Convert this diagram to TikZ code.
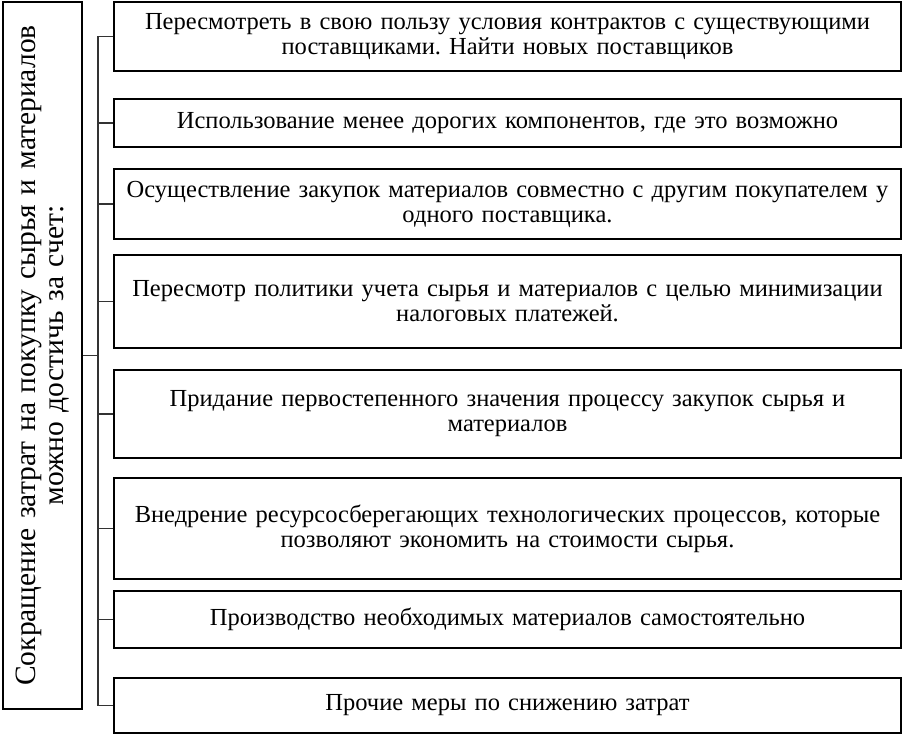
\documentclass[tikz,border=0pt]{standalone}
\usepackage{fontspec}
\setmainfont{Liberation Serif}
\usepackage{tikz}
\usetikzlibrary{positioning}
\frenchspacing

\tikzset{
  measure/.style={draw, line width=1.6pt, align=center, text width=780pt,
    minimum width=787pt, inner sep=0pt, font=\fontsize{24.5}{25}\selectfont},
  link/.style={line width=1.3pt, black!80}
}

\begin{document}
\begin{tikzpicture}[x=1pt, y=-1pt]
    \useasboundingbox (0,0) rectangle (906,735);
    
    \node[draw, line width=1.6pt, rotate=90, align=center, text width=700pt,
      minimum width=707pt, minimum height=79pt, inner sep=0pt,
      font=\fontsize{29.5}{28}\selectfont] (goal) at (42.5,355.5)
      {Сокращение затрат на покупку сырья и материалов\\ можно достичь за счет:};
    
    \node[measure, minimum height=69pt] (m1) at (507.5,36.5)
      {Пересмотреть в свою пользу условия контрактов с существующими\\ поставщиками. Найти новых поставщиков};
    \node[measure, minimum height=48pt] (m2) at (507.5,123)
      {Использование менее дорогих компонентов, где это возможно};
    \node[measure, minimum height=70pt] (m3) at (507.5,204)
      {Осуществление закупок материалов совместно с другим покупателем у\\ одного поставщика.};
    \node[measure, minimum height=93pt] (m4) at (507.5,301.5)
      {Пересмотр политики учета сырья и материалов с целью минимизации\\ налоговых платежей.};
    \node[measure, minimum height=88pt] (m5) at (507.5,414)
      {Придание первостепенного значения процессу закупок сырья и\\ материалов};
    \node[measure, minimum height=101pt] (m6) at (507.5,528.5)
      {Внедрение ресурсосберегающих технологических процессов, которые\\ позволяют экономить на стоимости сырья.};
    \node[measure, minimum height=57pt] (m7) at (507.5,619.5)
      {Производство необходимых материалов самостоятельно};
    \node[measure, minimum height=55pt] (m8) at (507.5,705.5)
      {Прочие меры по снижению затрат};
    
    \coordinate (spine) at (98,0);
    \draw[link] (m1.west -| spine) -- (m8.west -| spine);
    \foreach \i in {1,...,8}
      \draw[link] (m\i.west) -- (m\i.west -| spine);
    \draw[link] (goal.south) -- (goal.south -| spine);
\end{tikzpicture}
\end{document}
